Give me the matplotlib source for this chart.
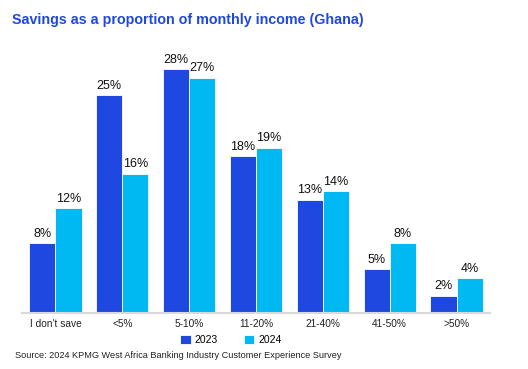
import numpy as np
import matplotlib.pyplot as plt

plt.rcParams['font.family'] = ['Liberation Sans', 'DejaVu Sans']

# Données
categories = ["I don't save", "<5%", "5-10%", "11-20%", "21-40%", "41-50%", ">50%"]
v2023 = [8, 25, 28, 18, 13, 5, 2]
v2024 = [12, 16, 27, 19, 14, 8, 4]

c2023 = "#1F48E0"
c2024 = "#00B9F2"

fig = plt.figure(figsize=(5.28, 3.69), dpi=100)
ax = fig.add_axes([22 / 528, 1 - 313 / 369, 468 / 528, 263 / 369])

x = np.arange(len(categories))
w = 0.39
b1 = ax.bar(x - w / 2, v2023, w, color=c2023, edgecolor="white", linewidth=0.6, label="2023")
b2 = ax.bar(x + w / 2, v2024, w, color=c2024, edgecolor="white", linewidth=0.6, label="2024")

for bars, vals in [(b1, v2023), (b2, v2024)]:
    for b, v in zip(bars, vals):
        ax.text(b.get_x() + b.get_width() / 2, v + 0.4, f"{v}%",
                ha="center", va="bottom", fontsize=9, color="#111111")

ax.set_xlim(-0.5, len(categories) - 0.5)
ax.set_ylim(0, 30.2)
ax.set_xticks(x)
ax.set_xticklabels(categories, fontsize=7.3, color="#222222")
ax.tick_params(axis="x", length=0, pad=4)
ax.set_yticks([])
for s in ["top", "right", "left"]:
    ax.spines[s].set_visible(False)
ax.spines["bottom"].set_color("#D9D9D9")
ax.spines["bottom"].set_linewidth(1.5)

fig.text(12 / 528, 1 - 20 / 369, "Savings as a proportion of monthly income (Ghana)",
         fontsize=10.3, fontweight="bold", color=c2023, va="center")

fig.legend(handles=[b1, b2], labels=["2023", "2024"], loc="center",
           bbox_to_anchor=(231 / 528, 1 - 340 / 369), ncol=2, frameon=False,
           fontsize=7.5, handlelength=1.0, handleheight=1.0, columnspacing=2.5,
           handletextpad=0.4)

fig.text(15 / 528, 1 - 355 / 369,
         "Source: 2024 KPMG West Africa Banking Industry Customer Experience Survey",
         fontsize=6.6, color="#222222", va="center")

fig.savefig("out.png", dpi=100)
